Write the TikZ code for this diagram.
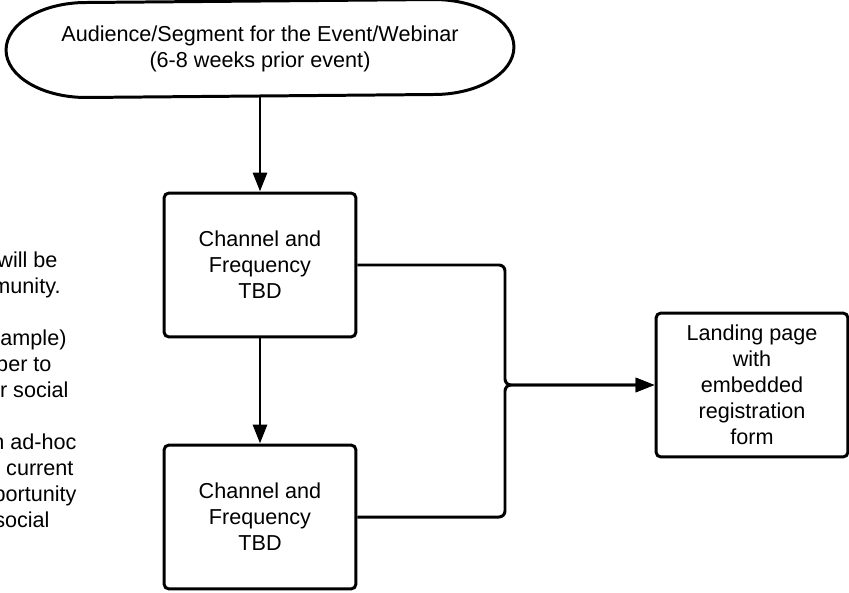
\documentclass[tikz,border=0pt]{standalone}
\usepackage{fontspec}
\setmainfont{Liberation Sans}
\usetikzlibrary{arrows.meta}
\begin{document}
\begin{tikzpicture}[x=0.02cm, y=-0.02cm,
		font=\fontsize{12.3}{14.8}\selectfont,
		line width=1.7pt,
		box/.style={draw, rounded corners=0.1cm, minimum width=3.84cm, minimum height=2.88cm, align=center, inner sep=0pt},
		arr/.style={-{Triangle[length=0.38cm, width=0.28cm]}},
		side/.style={anchor=base east, inner sep=0pt}]
			\useasboundingbox (0,0) rectangle (849,592);
			\node[minimum width=10.1cm, minimum height=1.9cm, inner sep=0pt, align=center] (aud) at (260,48.5) {Audience/Segment for the Event/Webinar\\(6-8 weeks prior event)};
			\draw ([xshift=-1.6cm]aud.north east) arc[start angle=90, end angle=-90, x radius=1.6cm, y radius=0.95cm] -- ([xshift=1.6cm]aud.south west) arc[start angle=270, end angle=90, x radius=1.6cm, y radius=0.95cm] -- cycle;
			\node[box] (chan1) at (260,265) {Channel and\\Frequency\\TBD};
			\node[box] (chan2) at (260,517) {Channel and\\Frequency\\TBD};
			\node[box] (land) at (752,385) {Landing page\\with\\embedded\\registration\\form};
			\coordinate (join) at (505,385);
			\draw[arr] (aud.south) -- (chan1.north);
			\draw[arr] (chan1.south) -- (chan2.north);
			\draw[arr, rounded corners=0.12cm] (chan1.east) -| (join) -- (land.west);
			\draw[arr, rounded corners=0.12cm] (chan2.east) -| (join) -- (land.west);
			\node[side] (note1) at (59,267) {will be};
			\node[side] (note2) at (62,293) {munity.};
			\node[side] (note3) at (68,345) {xample)};
			\node[side] (note4) at (53,371) {ber to};
			\node[side] (note5) at (70,397) {or social};
			\node[side] (note6) at (78,449) {n ad-hoc};
			\node[side] (note7) at (75,475) {e current};
			\node[side] (note8) at (78,501) {portunity};
			\node[side] (note9) at (51,527) {social};
		\end{tikzpicture}
\end{document}
